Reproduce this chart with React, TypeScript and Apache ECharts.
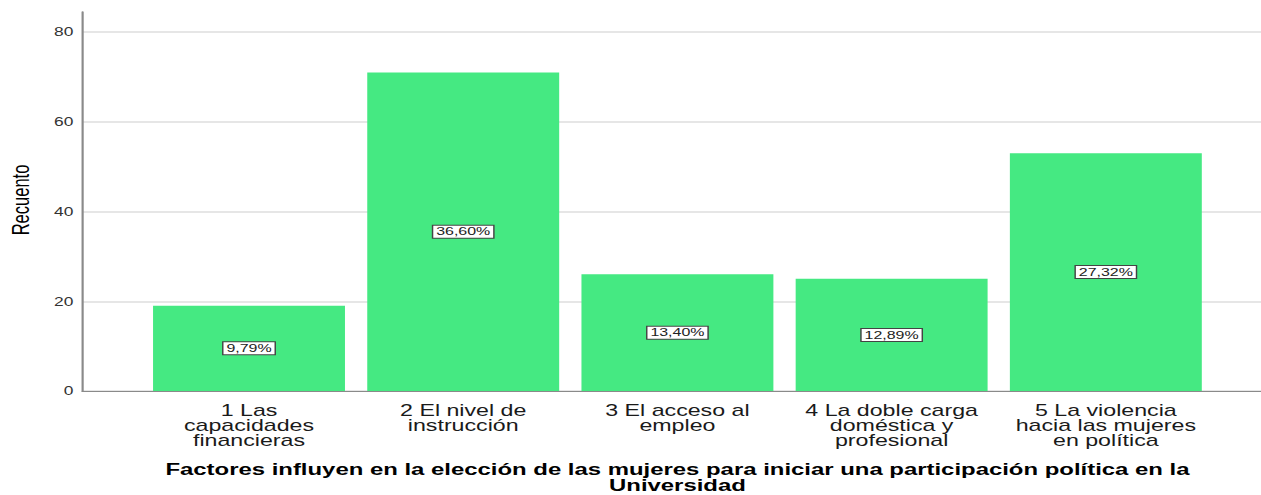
import React, { useEffect, useRef } from "react";
import * as echarts from "echarts";

const categories = [
  "1 Las\ncapacidades\nfinancieras",
  "2 El nivel de\ninstrucción",
  "3 El acceso al\nempleo",
  "4 La doble carga\ndoméstica y\nprofesional",
  "5 La violencia\nhacia las mujeres\nen política",
];
const counts = [19, 71, 26, 25, 53];
const yTicks = [0, 20, 40, 60, 80];
const yAxisTitle = "Recuento";
const xAxisTitle =
  "Factores influyen en la elección de las mujeres para iniciar una participación política en la\nUniversidad";

const STRETCH = 1.4495;
const W = 870;
const H = 495;

export default function App() {
  const ref = useRef<HTMLDivElement>(null);
  useEffect(() => {
    if (!ref.current) return;
    const chart = echarts.init(ref.current, null, { renderer: "svg" });
    const total = counts.reduce((a, b) => a + b, 0);
    const font = "'Liberation Sans', Arial, sans-serif";
    chart.setOption({
      animation: false,
      backgroundColor: "#ffffff",
      grid: [
        { left: 56.6, right: 0, top: 32, bottom: 104, outerBoundsMode: "none" },
        { left: 56.6, right: 0, top: 12, bottom: 104, outerBoundsMode: "none" },
        { left: 97.9, right: 33.2, top: 32, bottom: 104, outerBoundsMode: "none" },
      ],
      xAxis: [
        {
          gridIndex: 0,
          type: "value",
          min: 0,
          max: 1,
          axisLine: { show: true, lineStyle: { color: "#8a8a8a", width: 1 } },
          axisTick: { show: false },
          axisLabel: { show: false },
          splitLine: { show: false },
        },
        {
          gridIndex: 1,
          type: "value",
          show: false,
        },
        {
          gridIndex: 2,
          type: "category",
          data: categories,
          axisLine: { show: false },
          axisTick: { show: false },
          axisLabel: {
            interval: 0,
            color: "#1a1a1a",
            fontFamily: font,
            fontSize: 16,
            lineHeight: 15,
            margin: 12,
          },
          name: xAxisTitle,
          nameLocation: "middle",
          nameGap: 70,
          nameTextStyle: {
            color: "#000",
            fontFamily: font,
            fontWeight: "bold",
            fontSize: 16.5,
            lineHeight: 16,
            verticalAlign: "top",
          },
        },
      ],
      yAxis: [
        {
          gridIndex: 0,
          type: "value",
          min: yTicks[0],
          max: yTicks[yTicks.length - 1],
          interval: 20,
          axisLine: { show: false },
          axisTick: { show: false },
          axisLabel: {
            color: "#333",
            fontFamily: font,
            fontSize: 12,
            margin: 6,
          },
          splitLine: { show: true, lineStyle: { color: "#dedede", width: 1.5 } },
        },
        {
          gridIndex: 1,
          type: "value",
          min: 0,
          max: 1,
          axisLine: { show: true, lineStyle: { color: "#8a8a8a", width: 1.5 } },
          axisTick: { show: false },
          axisLabel: { show: false },
          splitLine: { show: false },
        },
        {
          gridIndex: 2,
          type: "value",
          min: yTicks[0],
          max: yTicks[yTicks.length - 1],
          show: false,
          splitLine: { show: false },
        },
      ],
      graphic: [
        {
          type: "text",
          rotation: Math.PI / 2,
          x: 14,
          y: 200,
          style: {
            text: yAxisTitle,
            fill: "#000",
            font: `16.5px ${font}`,
            align: "center",
            verticalAlign: "middle",
          },
        },
      ],
      series: [
        {
          type: "bar",
          xAxisIndex: 2,
          yAxisIndex: 2,
          data: counts,
          barCategoryGap: "10.4%",
          itemStyle: { color: "#45E982" },
          label: {
            show: true,
            position: "inside",
            formatter: (p: any) =>
              ((p.value / total) * 100).toFixed(2).replace(".", ",") + "%",
            color: "#222",
            fontFamily: font,
            fontSize: 11,
            backgroundColor: "#ffffff",
            borderColor: "#444",
            borderWidth: 1,
            padding: [1, 2, 0, 2],
          },
        },
      ],
    });
    return () => chart.dispose();
  }, []);
  return (
    <div
      ref={ref}
      style={{
        position: "absolute",
        left: 0,
        top: 0,
        width: W,
        height: H,
        transform: `scaleX(${STRETCH})`,
        transformOrigin: "0 0",
      }}
    />
  );
}
